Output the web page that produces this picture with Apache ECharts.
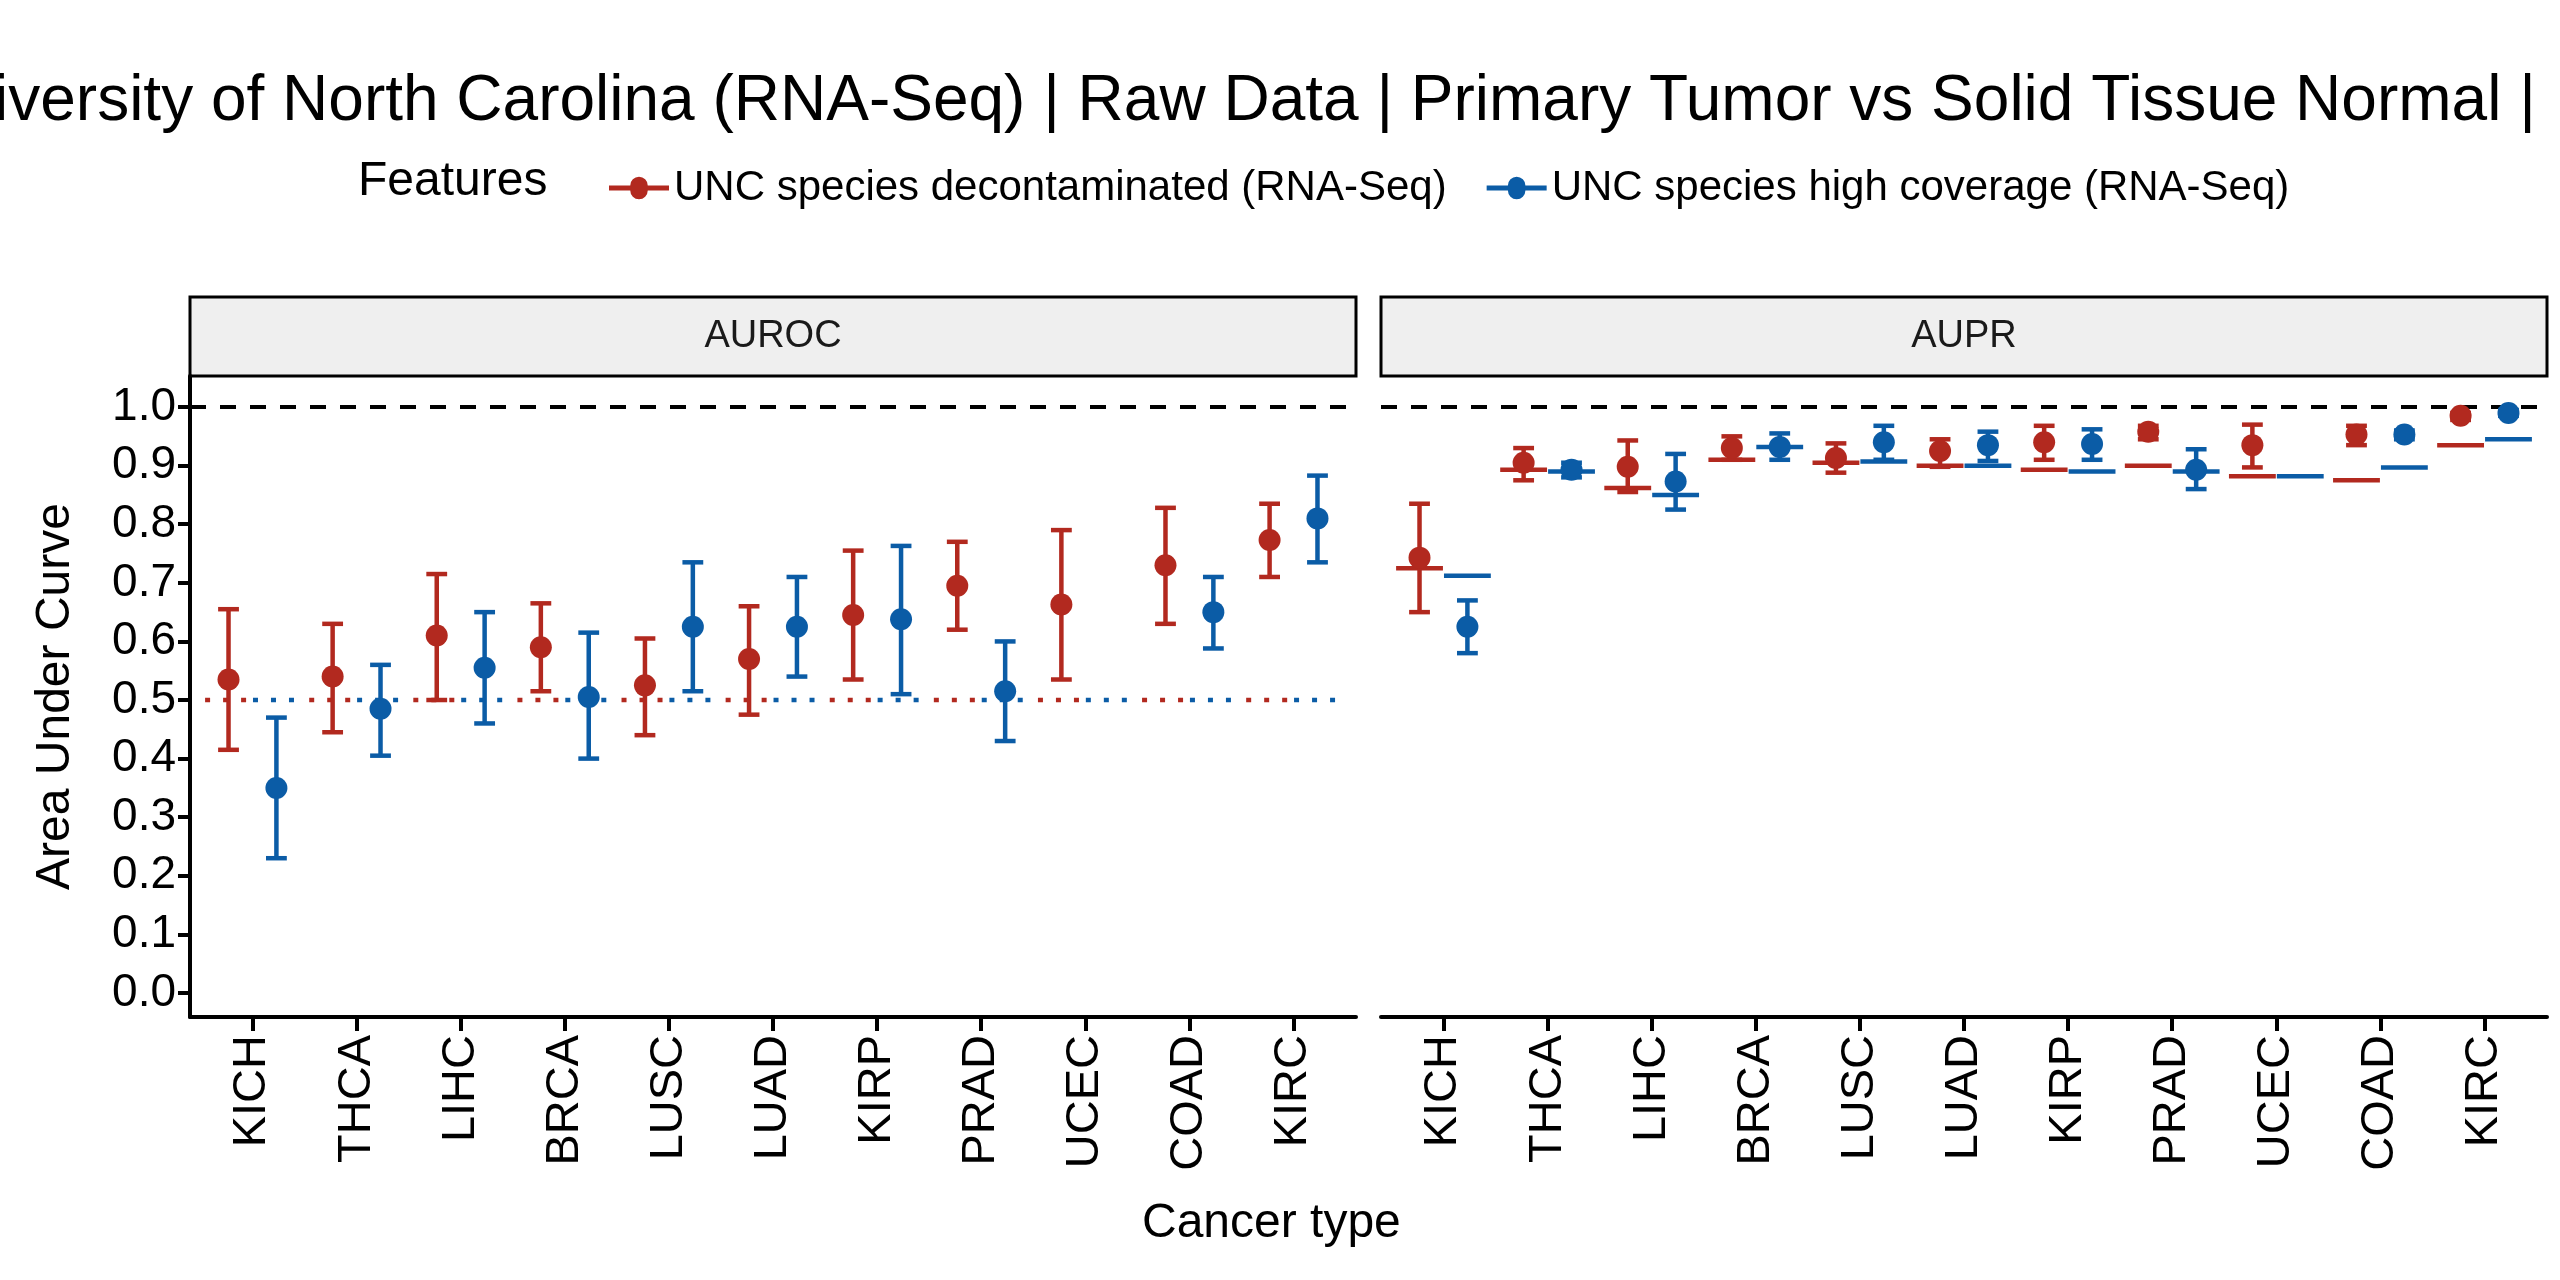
<!DOCTYPE html>
<html>
<head>
<meta charset="utf-8">
<script src="https://cdn.jsdelivr.net/npm/echarts@6/dist/echarts.min.js"></script>
<style>html,body{margin:0;padding:0;background:#fff}#chart{width:2560px;height:1280px}</style>
</head>
<body>
<div id="chart"></div>
<script>
var cancerTypes = ['KICH', 'THCA', 'LIHC', 'BRCA', 'LUSC', 'LUAD', 'KIRP', 'PRAD', 'UCEC', 'COAD', 'KIRC'];
var groupNames = ['UNC species decontaminated (RNA-Seq)', 'UNC species high coverage (RNA-Seq)'];
var colors = ['#b2291f', '#0b5ca6'];

// AUROC: mean, lower, upper
var aurocRedMid = [0.535, 0.54, 0.61, 0.59, 0.525, 0.57, 0.645, 0.695, 0.663, 0.73, 0.773];
var aurocRedLo  = [0.415, 0.445, 0.50, 0.515, 0.44, 0.475, 0.535, 0.62, 0.535, 0.63, 0.71];
var aurocRedHi  = [0.655, 0.63, 0.715, 0.665, 0.605, 0.66, 0.755, 0.77, 0.79, 0.828, 0.835];
var aurocBlueMid = [0.35, 0.485, 0.555, 0.505, 0.625, 0.625, 0.638, 0.515, null, 0.65, 0.81];
var aurocBlueLo  = [0.23, 0.405, 0.46, 0.40, 0.515, 0.54, 0.51, 0.43, null, 0.588, 0.735];
var aurocBlueHi  = [0.47, 0.56, 0.65, 0.615, 0.735, 0.71, 0.763, 0.60, null, 0.71, 0.883];
var aurocRedBase = [0.5, 0.5, 0.5, 0.5, 0.5, 0.5, 0.5, 0.5, 0.5, 0.5, 0.5];
var aurocBlueBase = [0.5, 0.5, 0.5, 0.5, 0.5, 0.5, 0.5, 0.5, 0.5, 0.5, 0.5];

// AUPR
var auprRedMid = [0.743, 0.905, 0.898, 0.93, 0.913, 0.925, 0.94, 0.958, 0.935, 0.953, 0.985];
var auprRedLo  = [0.65, 0.875, 0.855, 0.91, 0.888, 0.898, 0.91, 0.945, 0.897, 0.935, 0.978];
var auprRedHi  = [0.835, 0.93, 0.943, 0.95, 0.938, 0.945, 0.968, 0.968, 0.97, 0.968, 0.99];
var auprBlueMid = [0.625, 0.893, 0.873, 0.932, 0.94, 0.935, 0.937, 0.893, null, 0.953, 0.99];
var auprBlueLo  = [0.58, 0.88, 0.825, 0.91, 0.91, 0.908, 0.91, 0.86, null, 0.945, 0.985];
var auprBlueHi  = [0.67, 0.905, 0.92, 0.955, 0.968, 0.958, 0.962, 0.928, null, 0.96, 0.995];
var auprRedBase = [0.725, 0.893, 0.862, 0.91, 0.905, 0.9, 0.893, 0.9, 0.882, 0.875, 0.935];
var auprBlueBase = [0.712, 0.89, 0.85, 0.932, 0.907, 0.9, 0.89, 0.89, 0.882, 0.897, 0.945];

var yTicks = [0, 0.1, 0.2, 0.3, 0.4, 0.5, 0.6, 0.7, 0.8, 0.9, 1.0];
var xTicks = cancerTypes.map(function (c, i) { return i + 1; });
var dodge = 0.23;

var chart = echarts.init(document.getElementById('chart'));

function rows(mid, lo, hi, base, off) {
    var out = [];
    mid.forEach(function (m, i) {
        out.push([i + 1 + off, lo[i], hi[i], m, base[i]]);
    });
    return out;
}

function errorRender(color) {
    return function (params, api) {
        var lo = api.value(1), hi = api.value(2);
        if (lo == null || isNaN(lo)) return;
        var x = api.value(0);
        var a = api.coord([x, lo]), b = api.coord([x, hi]);
        var hw = api.size([0.1, 0])[0];
        var st = { stroke: color, lineWidth: 4.5 };
        return { type: 'group', children: [
            { type: 'line', shape: { x1: a[0], y1: a[1], x2: b[0], y2: b[1] }, style: st },
            { type: 'line', shape: { x1: a[0] - hw, y1: a[1], x2: a[0] + hw, y2: a[1] }, style: st },
            { type: 'line', shape: { x1: b[0] - hw, y1: b[1], x2: b[0] + hw, y2: b[1] }, style: st }
        ] };
    };
}

function baseRender(color, dotted) {
    return function (params, api) {
        var x = api.value(0), v = api.value(4);
        var p = api.coord([x, v]);
        var hw = api.size([0.225, 0])[0];
        return { type: 'line', shape: { x1: p[0] - hw, y1: p[1], x2: p[0] + hw, y2: p[1] },
            style: { stroke: color, lineWidth: 4.5, lineDash: dotted ? [5, 13] : null } };
    };
}

var panels = [
    { mids: [aurocRedMid, aurocBlueMid], los: [aurocRedLo, aurocBlueLo], his: [aurocRedHi, aurocBlueHi], bases: [aurocRedBase, aurocBlueBase], dotted: true },
    { mids: [auprRedMid, auprBlueMid], los: [auprRedLo, auprBlueLo], his: [auprRedHi, auprBlueHi], bases: [auprRedBase, auprBlueBase], dotted: false }
];

var series = [];
panels.forEach(function (p, k) {
    [0, 1].forEach(function (g) {
        var data = rows(p.mids[g], p.los[g], p.his[g], p.bases[g], g === 0 ? -dodge : dodge);
        series.push({ type: 'custom', xAxisIndex: k, yAxisIndex: k, renderItem: baseRender(colors[g], p.dotted), data: data, z: 2, silent: true });
        series.push({ type: 'custom', xAxisIndex: k, yAxisIndex: k, renderItem: errorRender(colors[g]), data: data, z: 3, silent: true });
        series.push({ name: groupNames[g], type: 'scatter', xAxisIndex: k, yAxisIndex: k, symbolSize: 22,
            itemStyle: { color: colors[g], opacity: 1 }, z: 4,
            data: data.filter(function (d) { return d[3] != null; }).map(function (d) { return [d[0], d[3]]; }) });
    });
    series.push({ type: 'line', xAxisIndex: k, yAxisIndex: k, symbol: 'none', silent: true, z: 1,
        lineStyle: { color: '#000', width: 4, type: [16, 14] }, data: [[0.4, 1], [11.6, 1]] });
});

var grids = [
    { left: 190, top: 376, width: 1166, height: 641 },
    { left: 1381, top: 376, width: 1166, height: 641 }
];

function xAxis(k) {
    return {
        type: 'value', gridIndex: k, min: 0.4, max: 11.6,
        splitLine: { show: false },
        axisLine: { onZero: false, lineStyle: { color: '#000', width: 4 } },
        axisTick: { show: true, customValues: xTicks, length: 14, lineStyle: { color: '#000', width: 4 } },
        axisLabel: { customValues: xTicks, rotate: 90, color: '#000', fontSize: 47, fontFamily: 'Liberation Sans', margin: 18,
            formatter: function (v) { return cancerTypes[Math.round(v) - 1] || ''; } }
    };
}
function yAxis(k) {
    return {
        type: 'value', gridIndex: k, min: -0.041, max: 1.053,
        splitLine: { show: false },
        axisLine: { show: k === 0, onZero: false, lineStyle: { color: '#000', width: 4 } },
        axisTick: { show: k === 0, customValues: yTicks, length: 12, lineStyle: { color: '#000', width: 4 } },
        axisLabel: { show: k === 0, customValues: yTicks, color: '#000', fontSize: 46, fontFamily: 'Liberation Sans', margin: 14,
            formatter: function (v) { return v.toFixed(1); } },
        name: k === 0 ? 'Area Under Curve' : '', nameLocation: 'middle', nameGap: 110,
        nameTextStyle: { color: '#000', fontSize: 48, fontFamily: 'Liberation Sans' }
    };
}

var strips = ['AUROC', 'AUPR'];
var graphic = [
    { type: 'text', left: -6, top: 70, style: { text: 'iversity of North Carolina (RNA-Seq) | Raw Data | Primary Tumor vs Solid Tissue Normal |', fontSize: 64, fill: '#000', fontFamily: 'Liberation Sans' } },
    { type: 'text', left: 358, top: 158, style: { text: 'Features', fontSize: 48, fill: '#000', fontFamily: 'Liberation Sans' } },
    { type: 'text', left: 1142, top: 1200, style: { text: 'Cancer type', fontSize: 48, fill: '#000', fontFamily: 'Liberation Sans' } }
];
strips.forEach(function (s, k) {
    var g = grids[k];
    graphic.push({ type: 'rect', shape: { x: g.left, y: 297, width: g.width, height: 79 },
        style: { fill: '#efefef', stroke: '#000', lineWidth: 3 } });
    graphic.push({ type: 'text', x: g.left + g.width / 2, y: 337,
        style: { text: s, fontSize: 38, fill: '#1a1a1a', fontFamily: 'Liberation Sans', align: 'center', verticalAlign: 'middle' } });
});

chart.setOption({
    backgroundColor: '#fff',
    animation: false,
    grid: grids,
    xAxis: [xAxis(0), xAxis(1)],
    yAxis: [yAxis(0), yAxis(1)],
    legend: {
        data: groupNames, left: 604, top: 162, itemWidth: 60, itemHeight: 24, itemGap: 40,
        icon: 'path://M0,10H17A7,7 0 0 1 31,10H48V14H31A7,7 0 0 1 17,14H0Z',
        textStyle: { fontSize: 42, color: '#000', fontFamily: 'Liberation Sans' }
    },
    graphic: graphic,
    series: series
});
</script>
</body>
</html>
